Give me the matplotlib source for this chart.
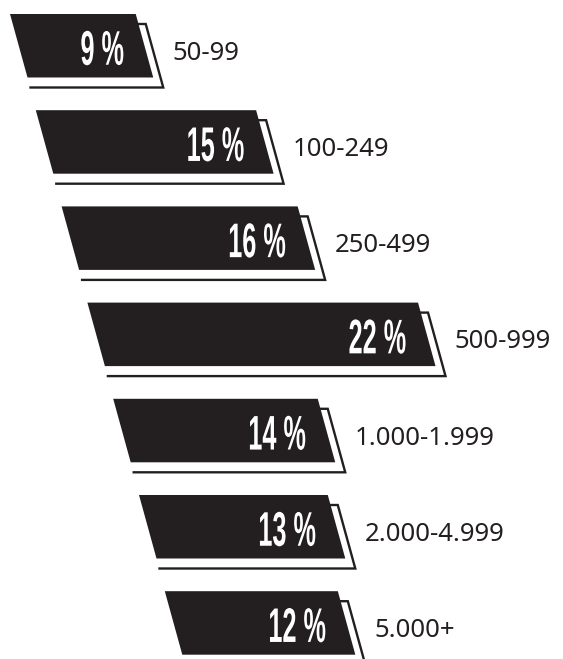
import matplotlib
matplotlib.use("Agg")
import matplotlib.pyplot as plt
from matplotlib.patches import Polygon
from matplotlib import patheffects
from matplotlib.transforms import Affine2D

# share of companies per size class (employees)
shares = [9, 15, 16, 22, 14, 13, 12]
groups = ["50-99", "100-249", "250-499", "500-999",
          "1.000-1.999", "2.000-4.999", "5.000+"]

ink = "#231f20"


class Squeeze(patheffects.AbstractPathEffect):
    # narrows the glyphs (condensed look), right end stays put
    def __init__(self, sx):
        super().__init__()
        self.sx = sx

    def draw_path(self, renderer, gc, tpath, affine, rgbFace=None):
        x1 = tpath.vertices[:, 0].max()
        sq = Affine2D().translate(-x1, 0).scale(self.sx, 1).translate(x1, 0)
        renderer.draw_path(gc, tpath, sq + affine, rgbFace)


fig = plt.figure(figsize=(5.63, 6.59), dpi=100)
ax = fig.add_axes([0, 0, 1, 1])
ax.set_xlim(0, 563)
ax.set_ylim(659, 0)
ax.axis("off")

top0, step_y = 14, 96.2
left0, step_x = 10, 25.8
h = 63.5
slant = 17.5


def bar_width(v):
    return 15.76 * v - 16.1


for i, (v, g) in enumerate(zip(shares, groups)):
    top = top0 + i * step_y
    bot = top + h
    left = left0 + i * step_x
    w = bar_width(v)

    # offset outline behind the bar: only right and bottom edges show
    sx = [left + w, left + w + 10, left + w + slant + 10, left + slant + 3]
    sy = [top + 10, top + 10, bot + 10, bot + 10]
    ax.plot(sx, sy, color=ink, linewidth=1.7, solid_joinstyle="miter", zorder=1)

    bar = [(left, top), (left + w, top), (left + w + slant, bot), (left + slant, bot)]
    ax.add_patch(Polygon(bar, closed=True, facecolor=ink,
                         edgecolor="none", zorder=2))

    mid_right = left + w + slant / 2
    ax.text(mid_right - 20, top + h / 2 + 19, f"{v} %", ha="right", va="baseline",
            fontsize=35, fontweight="bold", family="Liberation Sans",
            color="white", zorder=3, path_effects=[Squeeze(0.52)])
    ax.text(mid_right + 28, top + h / 2 + 14, g, ha="left", va="baseline",
            fontsize=18.5, family="Noto Sans", color=ink, zorder=3)

fig.savefig("out.png", dpi=100)
